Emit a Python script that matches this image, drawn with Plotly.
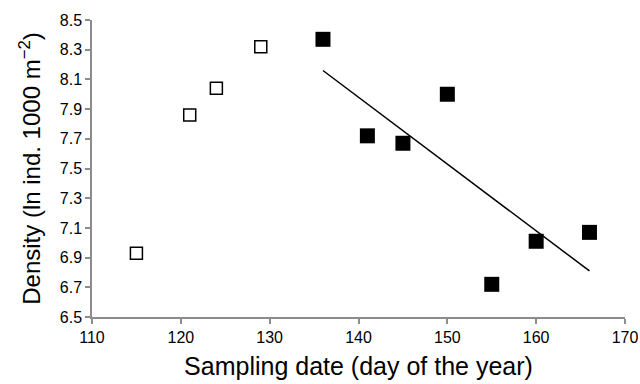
import plotly.graph_objects as go

# Data
open_x = [115, 121, 124, 129]
open_y = [6.93, 7.86, 8.04, 8.32]
filled_x = [136, 141, 145, 150, 155, 160, 166]
filled_y = [8.37, 7.72, 7.67, 8.00, 6.72, 7.01, 7.07]
trend_x = [136, 166]
trend_y = [8.16, 6.81]
x_ticks = [110, 120, 130, 140, 150, 160, 170]
y_ticks = [6.5, 6.7, 6.9, 7.1, 7.3, 7.5, 7.7, 7.9, 8.1, 8.3, 8.5]

font_family = "Liberation Sans, Arial, sans-serif"

fig = go.Figure()
fig.add_trace(go.Scatter(
    x=trend_x, y=trend_y, mode="lines",
    line=dict(color="black", width=1.5), showlegend=False, hoverinfo="skip"))
fig.add_trace(go.Scatter(
    x=open_x, y=open_y, mode="markers",
    marker=dict(symbol="square-open", size=12, color="black", line=dict(width=1.5)),
    showlegend=False))
fig.add_trace(go.Scatter(
    x=filled_x, y=filled_y, mode="markers",
    marker=dict(symbol="square", size=15, color="black"),
    showlegend=False))

fig.update_layout(
    width=640, height=384,
    margin=dict(l=92, r=15, t=16, b=67),
    plot_bgcolor="white", paper_bgcolor="white",
    font=dict(family=font_family, color="black"),
)
fig.update_xaxes(
    range=[110, 170], tickvals=x_ticks, ticktext=[str(v) for v in x_ticks],
    showgrid=False, zeroline=False, automargin=False,
    showline=True, linecolor="#8c8c8c", linewidth=1.5,
    ticks="outside", tickcolor="#8c8c8c", ticklen=5, tickwidth=1.5,
    tickfont=dict(size=16, color="black"),
    title=dict(text="Sampling date (day of the year)", font=dict(size=25), standoff=13),
)
fig.update_yaxes(
    range=[6.5, 8.5], tickvals=y_ticks, ticktext=[f"{v:.1f}" for v in y_ticks],
    showgrid=False, zeroline=False,
    showline=True, linecolor="#8c8c8c", linewidth=1.5,
    ticks="outside", tickcolor="#8c8c8c", ticklen=5, tickwidth=1.5,
    tickfont=dict(size=16, color="black"),
    title=dict(text="Density (ln ind. 1000 m<sup>−2</sup>)", font=dict(size=24), standoff=12),
)

fig.write_html("out.html")
